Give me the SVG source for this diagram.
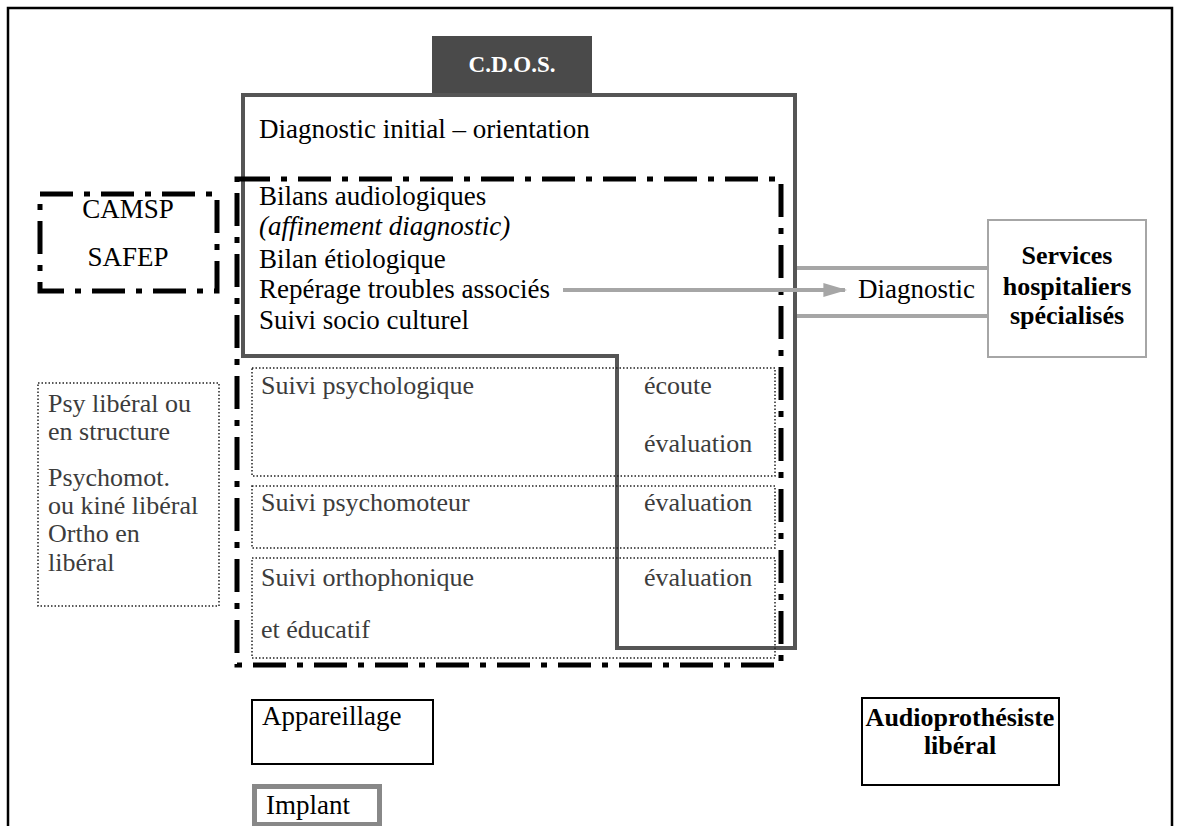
<svg xmlns="http://www.w3.org/2000/svg" width="1180" height="826" viewBox="0 0 1180 826">
<style>
text{font-family:"Liberation Serif","Times New Roman",serif;font-size:27px;fill:#000}
.g{fill:#3c3c3c}
.s{font-size:26px}
.b{font-weight:bold;font-size:26px}
.it{font-style:italic}
.dd{fill:none;stroke:#000;stroke-width:5;stroke-dasharray:33 11 6 11}
.dot{fill:none;stroke:#222;stroke-width:1.5;stroke-dasharray:1.5 2}
.conn{stroke:#a6a6a6;stroke-width:4;fill:none}
</style>
<defs>
<marker id="ah" viewBox="0 0 10 10" refX="9" refY="5" markerWidth="6" markerHeight="3.5" markerUnits="strokeWidth" orient="auto" preserveAspectRatio="none">
<path d="M0,0 L10,5 L0,10 z" fill="#a6a6a6"/>
</marker>
</defs>
<rect width="1180" height="826" fill="#fff"/>
<g id="frame"><path d="M8,826 V8 H1172 V826" fill="none" stroke="#000" stroke-width="2.5"/></g>

<g id="cdos">
<rect x="432" y="36" width="160" height="57" fill="#4a4a4a"/>
<text x="512" y="72" text-anchor="middle" class="b" style="fill:#fff;font-size:23px">C.D.O.S.</text>
</g>

<g id="cdos-zone">
<path d="M243,95 H795 V648 H617 V356 H243 Z" fill="none" stroke="#555" stroke-width="4"/>
<text x="259" y="138">Diagnostic initial – orientation</text>
</g>

<g id="main-zone">
<rect class="dd" x="237" y="179" width="544" height="486"/>
<text x="259" y="205">Bilans audiologiques</text>
<text x="259" y="235" class="it">(affinement diagnostic)</text>
<text x="259" y="268">Bilan étiologique</text>
<text x="259" y="298">Repérage troubles associés</text>
<text x="259" y="329">Suivi socio culturel</text>
</g>

<g id="row-psy">
<rect class="dot" x="252" y="368" width="523" height="108"/>
<text class="g s" x="261" y="394">Suivi psychologique</text>
<text class="g s" x="644" y="394">écoute</text>
<text class="g s" x="644" y="452">évaluation</text>
</g>
<g id="row-psymot">
<rect class="dot" x="252" y="486" width="523" height="62"/>
<text class="g s" x="261" y="511">Suivi psychomoteur</text>
<text class="g s" x="644" y="511">évaluation</text>
</g>
<g id="row-ortho">
<rect class="dot" x="252" y="558" width="523" height="100"/>
<text class="g s" x="261" y="586">Suivi orthophonique</text>
<text class="g s" x="644" y="586">évaluation</text>
<text class="g s" x="261" y="638">et éducatif</text>
</g>

<g id="camsp">
<rect class="dd" x="40" y="194" width="177" height="97"/>
<text x="128" y="218" text-anchor="middle">CAMSP</text>
<text x="128" y="266" text-anchor="middle">SAFEP</text>
</g>

<g id="liberal">
<rect class="dot" x="38" y="383" width="181" height="223"/>
<text class="g s" x="48" y="412">Psy libéral ou</text>
<text class="g s" x="48" y="440">en structure</text>
<text class="g s" x="48" y="486">Psychomot.</text>
<text class="g s" x="48" y="514">ou kiné libéral</text>
<text class="g s" x="48" y="542">Ortho en</text>
<text class="g s" x="48" y="571">libéral</text>
</g>

<g id="services">
<rect x="988" y="220" width="158" height="137" fill="none" stroke="#a6a6a6" stroke-width="2"/>
<text x="1067" y="264" text-anchor="middle" class="b">Services</text>
<text x="1067" y="295" text-anchor="middle" class="b">hospitaliers</text>
<text x="1067" y="324" text-anchor="middle" class="b">spécialisés</text>
</g>

<g id="connectors">
<line class="conn" x1="797" y1="268" x2="988" y2="268"/>
<line class="conn" x1="797" y1="316" x2="988" y2="316"/>
<line class="conn" x1="563" y1="290" x2="845" y2="290" marker-end="url(#ah)"/>
<text x="858" y="298">Diagnostic</text>
</g>

<g id="appareillage">
<rect x="252" y="700" width="181" height="64" fill="none" stroke="#000" stroke-width="2"/>
<text x="262" y="725">Appareillage</text>
</g>

<g id="implant">
<rect x="254.5" y="786.5" width="125" height="38" fill="none" stroke="#888" stroke-width="5"/>
<text x="266" y="814">Implant</text>
</g>

<g id="audio">
<rect x="862" y="698" width="197" height="87" fill="none" stroke="#000" stroke-width="2"/>
<text x="960" y="726" text-anchor="middle" class="b">Audioprothésiste</text>
<text x="960" y="754" text-anchor="middle" class="b">libéral</text>
</g>
</svg>
